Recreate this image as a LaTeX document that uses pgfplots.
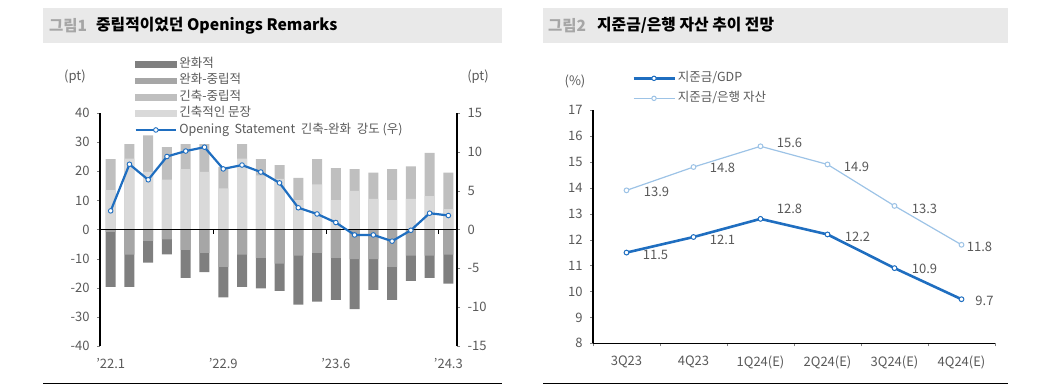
\documentclass[border=0pt]{standalone}
\usepackage{fontspec}
\setmainfont{Noto Sans CJK KR}
\usepackage{pgfplots}
\usepackage{pgfplotstable}
\pgfplotsset{compat=1.18}
\definecolor{cA}{HTML}{7F7F7F}
\definecolor{cB}{HTML}{A6A6A6}
\definecolor{cC}{HTML}{BFBFBF}
\definecolor{cD}{HTML}{D9D9D9}
\definecolor{dblue}{HTML}{1F6EC0}
\definecolor{sky}{HTML}{9DC3E6}
\definecolor{txt}{HTML}{595959}
\definecolor{titlebg}{HTML}{E9E9E9}
\definecolor{tgray}{HTML}{A6A6A6}

\pgfplotstableread{
x top bnd nb bot line
0 24.2 13.5 -0.8 -19.7 2.4
1 29.3 24.3 -8.6 -19.7 8.4
2 32.3 19.8 -3.9 -11.4 6.4
3 28.3 17.1 -3.4 -8.5 9.4
4 29.3 20.7 -7.0 -16.6 10.1
5 29.3 19.8 -8.0 -14.6 10.6
6 21.5 14.1 -12.8 -23.3 7.8
7 29.3 24.3 -8.6 -19.7 8.3
8 24.2 18.6 -9.7 -20.2 7.4
9 22.1 17.4 -11.7 -21.1 6.0
10 17.7 10.1 -9.0 -25.8 2.8
11 24.2 15.5 -8.0 -24.8 2.0
12 21.1 10.1 -9.7 -24.2 0.9
13 20.7 13.3 -10.2 -27.3 -0.7
14 19.5 10.5 -10.2 -20.7 -0.7
15 20.7 10.1 -12.8 -24.2 -1.5
16 21.7 10.5 -9.0 -17.6 -0.1
17 26.3 11.5 -9.0 -16.6 2.1
18 19.5 7.0 -8.6 -18.6 1.8
}\fomc

\pgfplotstableread{
x y dx dy
0 11.5 29 -2
1 12.1 29 -3
2 12.8 29 10
3 12.2 30 -2
4 10.9 30 -1
5 9.7 23 -2
}\gdp

\pgfplotstableread{
x y dx dy
0 13.9 30 -2
1 14.8 29 -1
2 15.6 29 3
3 14.9 29 -2
4 13.3 30 -3
5 11.8 18 -2
}\asset

\pgfplotsset{
  /pgf/number format/assume math mode=true,
  every tick label/.append style={font=\fontsize{13}{13}\selectfont, text=txt},
  every axis/.append style={axis line style={black, line width=1.1pt}},
  lbl/.style={
    nodes near coords,
    visualization depends on={\thisrow{dx} \as \dx},
    visualization depends on={\thisrow{dy} \as \dy},
    every node near coord/.append style={anchor=center, xshift=\dx*1pt, yshift=\dy*1pt,
      font=\fontsize{13}{13}\selectfont, text=txt},
  },
}

\begin{document}
\begin{tikzpicture}
\useasboundingbox (0,0) rectangle (1063pt,386pt);
% title bars
\fill[titlebg] (43pt,343pt) rectangle (502pt,378pt);
\fill[titlebg] (543pt,343pt) rectangle (1008pt,378pt);
\node[anchor=west, inner sep=0pt, text=tgray, font=\fontsize{15.5}{15.5}\selectfont\bfseries] at (49pt,360.5pt) {그림1};
\node[anchor=west, inner sep=0pt, font=\fontsize{15.8}{15.8}\selectfont\bfseries] at (96pt,360.5pt) {중립적이었던 Openings Remarks};
\node[anchor=west, inner sep=0pt, text=tgray, font=\fontsize{15.5}{15.5}\selectfont\bfseries] at (548pt,360.5pt) {그림2};
\node[anchor=west, inner sep=0pt, font=\fontsize{15.8}{15.8}\selectfont\bfseries] at (597pt,360.5pt) {지준금/은행 자산 추이 전망};
% bottom rules
\draw[black, line width=1pt] (43pt,3pt) -- (502pt,3pt);
\draw[black, line width=1pt] (543pt,3pt) -- (1008pt,3pt);

% ---- left panel: bars
\begin{axis}[
  at={(100pt,40pt)}, anchor=south west, scale only axis,
  width=357pt, height=233pt,
  xmin=-0.57, xmax=18.46, ymin=-40, ymax=40,
  axis y line*=left, axis x line*=bottom,
  x axis line style={draw=none},
  xtick={0,6,12,18}, xticklabels={'22.1,'22.9,'23.6,'24.3},
  xtick style={draw=none},
  xticklabel style={yshift=-6pt},
  ytick={-40,-30,...,40},
  yticklabel style={xshift=-4pt},
  tick align=outside, major tick length=3pt,
  ybar, bar width=10pt, bar shift=0pt,
  clip=false,
]
\addplot[fill=cC, draw=none] table[x=x,y=top]{\fomc};
\addplot[fill=cD, draw=none] table[x=x,y=bnd]{\fomc};
\addplot[fill=cA, draw=none] table[x=x,y=bot]{\fomc};
\addplot[fill=cB, draw=none] table[x=x,y=nb]{\fomc};
\draw[black, line width=1.2pt] (axis cs:-0.57,0) -- (axis cs:18.46,0);
\pgfplotsinvokeforeach{5.5,11.5,17.5}{\draw[black, line width=1pt] (axis cs:#1,0) -- ++(0pt,-4pt);}
\end{axis}

% ---- left panel: line on right axis
\begin{axis}[
  at={(100pt,40pt)}, anchor=south west, scale only axis,
  width=357pt, height=233pt,
  xmin=-0.57, xmax=18.46, ymin=-15, ymax=15,
  axis y line*=right, axis x line=none,
  ytick={-15,-10,...,15},
  yticklabel style={xshift=4pt},
  tick align=outside, major tick length=3pt,
  clip=false,
  legend style={at={(0.096,1.236)}, anchor=north west, draw=none, fill=none,
    inner sep=0pt, row sep=4.1pt,
    font=\fontsize{12.5}{12.5}\selectfont, text=txt,
    nodes={inner xsep=2pt, inner ysep=0pt, text height=9.3pt, text depth=3pt}},
  legend cell align=left,
]
\addlegendimage{legend image code/.code={\fill[cA] (0pt,-2.9pt) rectangle (40.7pt,2.9pt);}}
\addlegendimage{legend image code/.code={\fill[cB] (0pt,-2.9pt) rectangle (40.7pt,2.9pt);}}
\addlegendimage{legend image code/.code={\fill[cC] (0pt,-2.9pt) rectangle (40.7pt,2.9pt);}}
\addlegendimage{legend image code/.code={\fill[cD] (0pt,-2.9pt) rectangle (40.7pt,2.9pt);}}
\addlegendimage{legend image code/.code={\draw[dblue, line width=2.2pt] (0pt,0pt) -- (40.7pt,0pt); \draw[dblue, fill=white, line width=0.9pt] (20.3pt,0pt) circle (2.3pt);}}
\addplot[dblue, line width=2.2pt, mark=*, mark size=2.3pt,
  mark options={fill=white, draw=dblue, line width=0.9pt}, forget plot]
  table[x=x,y=line]{\fomc};
\legend{완화적, 완화-중립적, 긴축-중립적, 긴축적인 문장, Opening\ \ Statement\ \ 긴축-완화\ \ 강도 (우)}
\end{axis}

\node[text=txt, font=\fontsize{13}{13}\selectfont] at (75pt,309pt) {(pt)};
\node[text=txt, font=\fontsize{13}{13}\selectfont] at (478pt,309pt) {(pt)};

% ---- right panel
\begin{axis}[
  at={(593pt,42.7pt)}, anchor=south west, scale only axis,
  width=402pt, height=233.3pt,
  xmin=-0.5, xmax=5.5, ymin=8, ymax=17,
  axis y line*=left, axis x line*=bottom,
  xtick={-0.5,0.5,...,5.5},
  x tick label as interval,
  xticklabels={3Q23,4Q23,1Q24(E),2Q24(E),3Q24(E),4Q24(E)},
  xticklabel style={yshift=-6pt},
  ytick={8,...,17},
  yticklabel style={xshift=-4pt},
  tick align=outside, major tick length=3pt,
  clip=false,
  legend style={at={(0.097,1.163)}, anchor=north west, draw=none, fill=none,
    inner sep=0pt, row sep=7.7pt,
    font=\fontsize{12.5}{12.5}\selectfont, text=txt,
    nodes={inner xsep=2pt, inner ysep=0pt, text height=9.3pt, text depth=3pt}},
  legend cell align=left,
]
\addlegendimage{legend image code/.code={\draw[dblue, line width=2.6pt] (0pt,0pt) -- (41pt,0pt); \draw[dblue, fill=white, line width=1pt] (20.5pt,0pt) circle (2.2pt);}}
\addlegendimage{legend image code/.code={\draw[sky, line width=1.2pt] (0pt,0pt) -- (41pt,0pt); \draw[sky, fill=white, line width=1pt] (20.5pt,0pt) circle (2.2pt);}}
\addplot[dblue, line width=2.6pt, mark=*, mark size=2.4pt,
  mark options={fill=white, draw=dblue, line width=1pt}, forget plot, lbl]
  table[x=x,y=y]{\gdp};
\addplot[sky, line width=1.2pt, mark=*, mark size=2.4pt,
  mark options={fill=white, draw=sky, line width=1pt}, forget plot, lbl]
  table[x=x,y=y]{\asset};
\legend{지준금/GDP, 지준금/은행 자산}
\end{axis}
\node[text=txt, font=\fontsize{13}{13}\selectfont] at (575pt,305pt) {(\%)};
\end{tikzpicture}
\end{document}
